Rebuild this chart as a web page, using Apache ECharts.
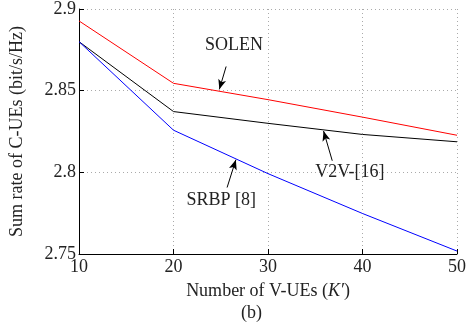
<!DOCTYPE html>
<html><head><meta charset="utf-8">
<script src="https://cdn.jsdelivr.net/npm/echarts@6/dist/echarts.min.js"></script>
<style>html,body{margin:0;padding:0;background:#fff}#c{width:469px;height:328px}</style>
</head><body><div id="c"></div>
<script>
const xValues = [10, 20, 30, 40, 50];
const solen = [2.8927, 2.8545, 2.8445, 2.8338, 2.8227];
const v2v = [2.8800, 2.8372, 2.8300, 2.8232, 2.8187];
const srbp = [2.8800, 2.8258, 2.7992, 2.7748, 2.7518];
const yTicks = [2.75, 2.8, 2.85, 2.9];
const xTicks = [10, 20, 30, 40, 50];

const FONT = 'Liberation Serif';
const chart = echarts.init(document.getElementById('c'));

function pairs(vals) { return xValues.map((x, i) => [x, vals[i]]); }
function arrow(from, to) {
  return [{ coord: from, symbol: 'none' }, { coord: to, symbol: 'arrow', symbolSize: [6, 10] }];
}
function textPoint(name, coord) {
  return { name: name, coord: coord, symbol: 'circle', symbolSize: 1,
    itemStyle: { color: 'rgba(0,0,0,0)' },
    label: { show: true, formatter: name, position: 'inside', color: '#222',
      fontFamily: FONT, fontSize: 18, textBorderWidth: 0 } };
}

chart.setOption({
  animation: false,
  textStyle: { fontFamily: FONT },
  grid: { left: 72, right: 9, top: 7, bottom: 74 },
  xAxis: {
    type: 'value', min: 10, max: 50, interval: 10,
    name: '{a|Number of V-UEs (}{i|K′}{a|)}',
    nameLocation: 'middle', nameGap: 28,
    nameTextStyle: { rich: {
      a: { fontFamily: FONT, fontSize: 18, color: '#222' },
      i: { fontFamily: FONT, fontSize: 18, color: '#222', fontStyle: 'italic' } } },
    axisLine: { show: true, lineStyle: { color: '#000', width: 1 } },
    axisTick: { show: true, inside: true, length: 5, lineStyle: { color: '#000' } },
    axisLabel: { color: '#222', fontFamily: FONT, fontSize: 18, margin: 4 },
    splitLine: { show: true, lineStyle: { color: '#aaa', type: [1, 3], width: 1 } }
  },
  yAxis: {
    type: 'value', min: 2.75, max: 2.9, interval: 0.05,
    name: 'Sum rate of C-UEs (bit/s/Hz)',
    nameLocation: 'middle', nameGap: 53,
    nameTextStyle: { fontFamily: FONT, fontSize: 18, color: '#222' },
    axisLine: { show: true, lineStyle: { color: '#000', width: 1 } },
    axisTick: { show: true, inside: true, length: 5, lineStyle: { color: '#000' } },
    axisLabel: { color: '#222', fontFamily: FONT, fontSize: 18, margin: 3,
      formatter: v => { const t = yTicks.find(k => Math.abs(k - v) < 1e-9); return t === undefined ? '' : String(t); } },
    splitLine: { show: true, lineStyle: { color: '#aaa', type: [1, 3], width: 1 } }
  },
  series: [
    { type: 'line', name: 'SOLEN', data: pairs(solen), symbol: 'none',
      lineStyle: { color: '#ff0000', width: 1 }, z: 3,
      markLine: { silent: true, symbol: ['none', 'arrow'], label: { show: false },
        lineStyle: { color: '#000', width: 1, type: 'solid' },
        data: [arrow([25.57, 2.8648], [24.85, 2.8508]),
               arrow([36.8, 2.8071], [35.88, 2.8253]),
               arrow([25.67, 2.7907], [26.6, 2.8077])] },
      markPoint: { silent: true, data: [
        textPoint('SOLEN', [26.39, 2.8775]),
        textPoint('V2V-[16]', [38.66, 2.7998]),
        textPoint('SRBP [8]', [25.05, 2.7828])] } },
    { type: 'line', name: 'V2V-[16]', data: pairs(v2v), symbol: 'none',
      lineStyle: { color: '#000000', width: 1 }, z: 3 },
    { type: 'line', name: 'SRBP [8]', data: pairs(srbp), symbol: 'none',
      lineStyle: { color: '#0000ff', width: 1 }, z: 3 }
  ],
  graphic: [{ type: 'text', left: 241, top: 304,
    style: { text: '(b)', font: '18px "Liberation Serif"', fill: '#222' } }]
});
</script></body></html>
